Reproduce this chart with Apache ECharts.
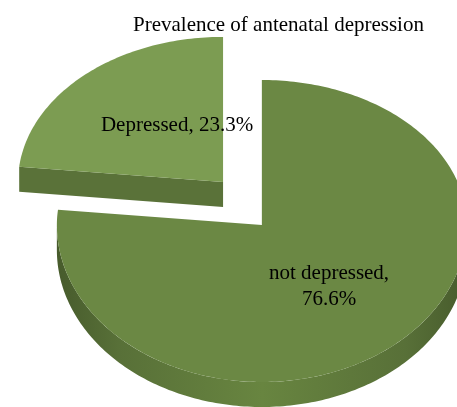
<!DOCTYPE html>
<html>
<head>
<meta charset="utf-8">
<script src="https://cdn.jsdelivr.net/npm/echarts@6/dist/echarts.min.js"></script>
<style>
  html, body { margin: 0; padding: 0; background: #fff; }
  #main { width: 457px; height: 407px; }
</style>
</head>
<body>
<div id="main"></div>
<script>
// data
var names = ['not depressed', 'Depressed'];
var values = [76.6, 23.3];
var titleText = 'Prevalence of antenatal depression';

// look
var topColors = ['#6b8844', '#7c9c52'];
var wallColor = '#5a7239';
var labelSep = [',\n', ', '];
var labelRadius = [0.49, 0.54];
var labelShift = [[0, 4], [28, 2]];
var explode = [0, 58];
var font = 'Liberation Serif';

var chart = echarts.init(document.getElementById('main'));

var total = values.reduce(function (a, b) { return a + b; }, 0);
var starts = [];
var acc = 0;
values.forEach(function (v) { starts.push(acc); acc += v; });

function renderItem(params, api) {
    var i = params.dataIndex;
    var W = api.getWidth();
    var cx = W * 0.573, cy = 225;
    var rx = 205, ryTop = 145, ryBot = 157, depth = 25;

    var a0 = starts[i] / total * 360;
    var a1 = (starts[i] + api.value(0)) / total * 360;
    var mid = (a0 + a1) / 2 * Math.PI / 180;
    var ox = Math.sin(mid) * explode[i];
    var oy = -Math.cos(mid) * explode[i];

    function pt(deg, dz) {
        var t = deg * Math.PI / 180;
        var s = Math.sin(t), c = -Math.cos(t);
        return [cx + ox + rx * s, cy + oy + (c < 0 ? ryTop : ryBot) * c + (dz || 0)];
    }
    function arc(from, to, dz) {
        var p = [];
        var n = Math.max(2, Math.ceil(Math.abs(to - from)));
        for (var k = 0; k <= n; k++) p.push(pt(from + (to - from) * k / n, dz));
        return p;
    }
    var center = [cx + ox, cy + oy];
    var children = [];

    // outer wall, front half only
    var w0 = Math.max(a0, 90), w1 = Math.min(a1, 270);
    if (w1 > w0) {
        var pts = arc(w0, w1, 0).concat(arc(w0, w1, depth).reverse());
        children.push({
            type: 'polygon',
            shape: { points: pts },
            style: {
                fill: new echarts.graphic.LinearGradient(0, 0, 1, 0, [
                    { offset: 0, color: '#475b2c' },
                    { offset: 0.15, color: '#587038' },
                    { offset: 0.5, color: '#688540' },
                    { offset: 0.85, color: '#587038' },
                    { offset: 1, color: '#475b2c' }
                ])
            }
        });
    }
    // radial cut face at the start angle, seen from the front
    if (a0 > 180) {
        var e = pt(a0, 0), eb = pt(a0, depth);
        children.push({
            type: 'polygon',
            shape: { points: [center, e, eb, [center[0], center[1] + depth]] },
            style: { fill: wallColor }
        });
    }
    // top face
    children.push({
        type: 'polygon',
        shape: { points: [center].concat(arc(a0, a1, 0)) },
        style: { fill: topColors[i] }
    });
    // label
    var lr = labelRadius[i];
    var lx = center[0] + rx * Math.sin(mid) * lr + labelShift[i][0];
    var c = -Math.cos(mid);
    var ly = center[1] + (c < 0 ? ryTop : ryBot) * c * lr + labelShift[i][1];
    children.push({
        type: 'text',
        style: {
            x: lx, y: ly,
            text: names[i] + labelSep[i] + api.value(0) + '%',
            fontFamily: font,
            fontSize: 21,
            lineHeight: 26,
            fill: '#000',
            align: 'center',
            verticalAlign: 'middle'
        }
    });
    return { type: 'group', children: children };
}

chart.setOption({
    backgroundColor: '#fff',
    animation: false,
    title: {
        text: titleText,
        left: 128,
        top: 10,
        textStyle: { fontFamily: font, fontWeight: 'normal', fontSize: 21, color: '#000' }
    },
    series: [{
        type: 'custom',
        coordinateSystem: 'none',
        renderItem: renderItem,
        data: values.map(function (v, i) { return { name: names[i], value: [v] }; })
    }]
});
</script>
</body>
</html>
